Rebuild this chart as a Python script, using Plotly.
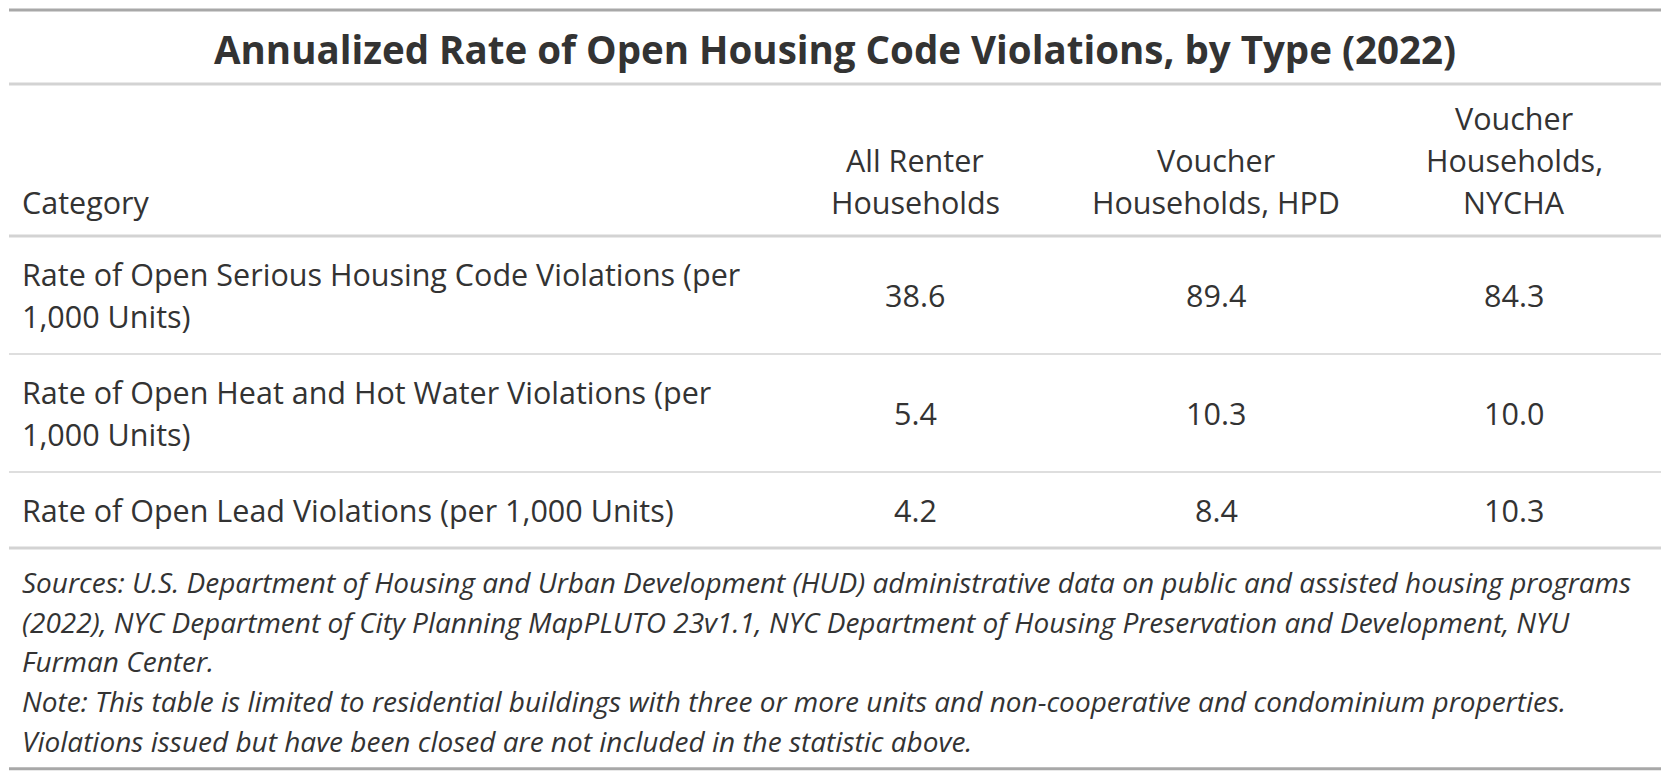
import plotly.graph_objects as go

# ---- data ---------------------------------------------------------------
title = "Annualized Rate of Open Housing Code Violations, by Type (2022)"
stub_header = "Category"
col_headers = [
  "All Renter<br>Households",
  "Voucher<br>Households, HPD",
  "Voucher<br>Households,<br>NYCHA",
]
categories = [
  "Rate of Open Serious Housing Code Violations (per<br>1,000 Units)",
  "Rate of Open Heat and Hot Water Violations (per<br>1,000 Units)",
  "Rate of Open Lead Violations (per 1,000 Units)",
]
all_renter = [38.6, 5.4, 4.2]
voucher_hpd = [89.4, 10.3, 8.4]
voucher_nycha = [84.3, 10.0, 10.3]
footnotes = [
  "Sources: U.S. Department of Housing and Urban Development (HUD) administrative data on public and assisted housing programs",
  "(2022), NYC Department of City Planning MapPLUTO 23v1.1, NYC Department of Housing Preservation and Development, NYU",
  "Furman Center.",
  "Note: This table is limited to residential buildings with three or more units and non-cooperative and condominium properties.",
  "Violations issued but have been closed are not included in the statistic above.",
]

# ---- layout constants (screen pixels, 1 axis unit = 1 px) ----------------
W, H = 1670, 780
OFF = 8                    # page body margin, so axis units = screen px
X0, X1 = 9, 1661           # table edges
STUB_X = 21
COL_X = [915, 1216, 1514]
LINE_H = 42                # body / header line height
FOOT_H = 39.7
ROW_PAD = 34
TXT = "#333333"
FONT = "Open Sans"
BODY_SIZE = 30.5
FOOT_SIZE = 28
TITLE_SIZE = 38.5

fig = go.Figure()
fig.update_layout(
  width=W, height=H,
  margin=dict(l=0, r=0, t=0, b=0),
  plot_bgcolor="white", paper_bgcolor="white",
  showlegend=False,
  font=dict(family=FONT, color=TXT, size=BODY_SIZE),
)
fig.update_xaxes(range=[OFF, W + OFF], visible=False, fixedrange=True)
fig.update_yaxes(range=[H + OFF, OFF], visible=False, fixedrange=True)


def rule(y, color, width):
  fig.add_shape(type="line", xref="x", yref="y", x0=X0, x1=X1, y0=y, y1=y,
                line=dict(color=color, width=width))


def put_lines(text, x, y_first, step, anchor, size, style="normal", weight="normal"):
  # place each line of a (<br> separated) label on its own, fixed spacing
  for i, part in enumerate(text.split("<br>")):
    fig.add_annotation(
      x=x, y=y_first + i * step, xref="x", yref="y", text=part,
      showarrow=False, xanchor=anchor, yanchor="middle", borderpad=0,
      font=dict(family=FONT, size=size, color=TXT, style=style, weight=weight),
    )


# title
rule(10, "#a8a8a8", 3)
put_lines(title, (X0 + X1) / 2, 49, LINE_H, "center", TITLE_SIZE, weight="bold")
rule(84, "#d3d3d3", 3)

# column headers (bottom aligned)
header_rule = 236
last_line_y = header_rule - 34
put_lines(stub_header, STUB_X, last_line_y, LINE_H, "left", BODY_SIZE)
for cx, h in zip(COL_X, col_headers):
  n = len(h.split("<br>"))
  put_lines(h, cx, last_line_y - (n - 1) * LINE_H, LINE_H, "center", BODY_SIZE)
rule(header_rule, "#d3d3d3", 3)

# body rows
y = header_rule
for r, cat in enumerate(categories):
  n = len(cat.split("<br>"))
  row_h = n * LINE_H + ROW_PAD
  mid = y + row_h / 2
  put_lines(cat, STUB_X, mid - (n - 1) * LINE_H / 2, LINE_H, "left", BODY_SIZE)
  for cx, series in zip(COL_X, [all_renter, voucher_hpd, voucher_nycha]):
    put_lines(f"{series[r]:.1f}", cx, mid, LINE_H, "center", BODY_SIZE)
  y += row_h
  if r < len(categories) - 1:
    rule(y, "#d3d3d3", 1.5)
rule(y, "#d3d3d3", 3)

# footnotes
fy = y + 34
for i, line in enumerate(footnotes):
  put_lines(line, STUB_X, fy + i * FOOT_H, FOOT_H, "left", FOOT_SIZE, style="italic")
rule(fy + (len(footnotes) - 1) * FOOT_H + 28, "#a8a8a8", 3)

fig.write_html("out.html")
